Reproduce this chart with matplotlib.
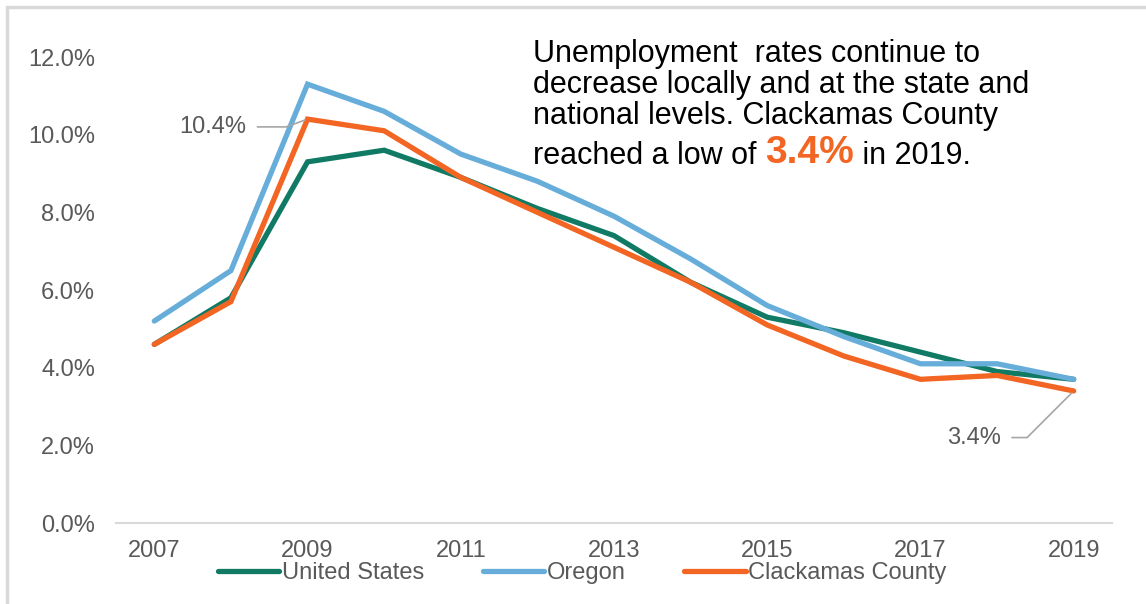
import matplotlib
matplotlib.use("Agg")
import matplotlib.pyplot as plt
from matplotlib.patches import Rectangle
from matplotlib.lines import Line2D

years = list(range(2007, 2020))
us_rate = [4.6, 5.8, 9.3, 9.6, 8.9, 8.1, 7.4, 6.2, 5.3, 4.9, 4.4, 3.9, 3.7]
oregon_rate = [5.2, 6.5, 11.3, 10.6, 9.5, 8.8, 7.9, 6.8, 5.6, 4.8, 4.1, 4.1, 3.7]
clackamas_rate = [4.6, 5.7, 10.4, 10.1, 8.9, 8.0, 7.1, 6.2, 5.1, 4.3, 3.7, 3.8, 3.4]
series_names = ["United States", "Oregon", "Clackamas County"]
y_ticks = [0, 2, 4, 6, 8, 10, 12]
x_ticks = [2007, 2009, 2011, 2013, 2015, 2017, 2019]

colors = ["#107A64", "#67ADDA", "#F26522"]
grey = "#595959"
plt.rcParams["font.family"] = ["Liberation Sans", "DejaVu Sans"]

fig = plt.figure(figsize=(11.46, 6.04), dpi=100)
# light frame around the chart area
fig.patches.append(Rectangle((7 / 1146, -0.1), 1.2, 1 - 7 / 604 + 0.1,
                             transform=fig.transFigure, fill=False,
                             edgecolor="#D9D9D9", linewidth=2.5))

ax = fig.add_axes([116 / 1146, 1 - 523 / 604, (1112 - 116) / 1146, (523 - 57) / 604])
for vals, c in zip([us_rate, oregon_rate, clackamas_rate], colors):
    ax.plot(years, vals, color=c, linewidth=3.8, solid_capstyle="round", solid_joinstyle="miter")

ax.set_xlim(2006.5, 2019.5)
ax.set_ylim(0, 12)
ax.set_yticks(y_ticks)
ax.set_yticklabels([f"{v:.1f}%" for v in y_ticks])
ax.set_xticks(x_ticks)
ax.set_xticklabels([str(x) for x in x_ticks])
ax.tick_params(length=0, labelsize=17, colors=grey)
ax.tick_params(axis="y", pad=15)
ax.tick_params(axis="x", pad=12)
for s in ["top", "right", "left"]:
    ax.spines[s].set_visible(False)
ax.spines["bottom"].set_color("#D9D9D9")
ax.spines["bottom"].set_linewidth(1.5)

# callouts on Clackamas County peak and low
i_peak = years.index(2009)
ax.annotate(f"{clackamas_rate[i_peak]:.1f}%", xy=(2009, clackamas_rate[i_peak]),
            xytext=(2008.2, 10.2), ha="right", va="center", fontsize=17, color=grey,
            arrowprops=dict(arrowstyle="-", color="#A6A6A6", lw=1.2,
                            connectionstyle="angle,angleA=0,angleB=20,rad=0",
                            shrinkA=6, shrinkB=2))
i_low = years.index(2019)
ax.annotate(f"{clackamas_rate[i_low]:.1f}%", xy=(2019, clackamas_rate[i_low]),
            xytext=(2018.05, 2.2), ha="right", va="center", fontsize=17, color=grey,
            arrowprops=dict(arrowstyle="-", color="#A6A6A6", lw=1.2,
                            connectionstyle="angle,angleA=0,angleB=45,rad=0",
                            shrinkA=6, shrinkB=2))

# commentary block
tx = 533 / 1146
fs = 22
fig.text(tx, 1 - 54 / 604, "Unemployment  rates continue to", fontsize=fs, color="black", va="center")
fig.text(tx, 1 - 85 / 604, "decrease locally and at the state and", fontsize=fs, color="black", va="center")
fig.text(tx, 1 - 116 / 604, "national levels. Clackamas County", fontsize=fs, color="black", va="center")
t1 = fig.text(tx, 1 - 156 / 604, "reached a low of ", fontsize=fs, color="black", va="center")
fig.canvas.draw()
bb = t1.get_window_extent()
t2 = fig.text(bb.x1 / fig.bbox.width, 1 - 153 / 604, f"{clackamas_rate[i_low]:.1f}%", fontsize=28,
              color=colors[2], fontweight="bold", va="center")
fig.canvas.draw()
bb2 = t2.get_window_extent()
fig.text(bb2.x1 / fig.bbox.width, 1 - 156 / 604, " in 2019.", fontsize=fs, color="black", va="center")

handles = [Line2D([], [], color=c, linewidth=3.8, solid_capstyle="round") for c in colors]
fig.legend(handles, series_names, loc="center", bbox_to_anchor=(0.508, 1 - 573 / 604),
           ncol=3, frameon=False, fontsize=17, labelcolor=grey, handlelength=2.6,
           handletextpad=0.1, columnspacing=2.5)

fig.savefig("out.png", dpi=100)
